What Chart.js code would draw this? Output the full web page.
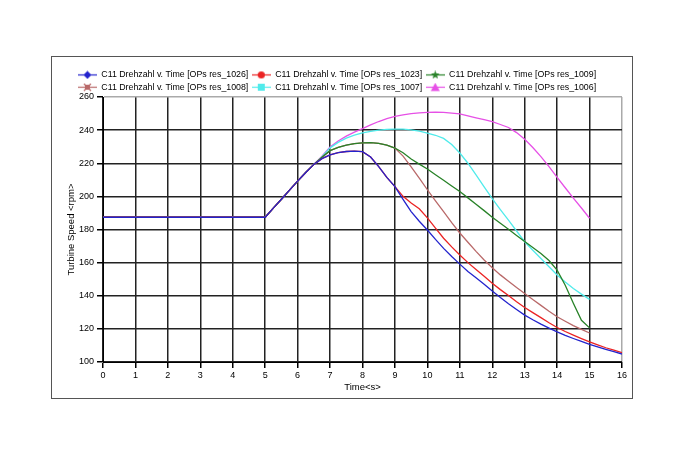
<!DOCTYPE html>
<html>
<head>
<meta charset="utf-8">
<script src="https://cdn.jsdelivr.net/npm/chart.js@4.4.1/dist/chart.umd.min.js"></script>
<style>
html, body { margin: 0; padding: 0; background: #fff; }
#box { position: absolute; left: 51px; top: 56px; width: 580px; height: 341px; border: 1px solid #555; }
</style>
</head>
<body>
<div id="box"><canvas id="speedChart" width="580" height="341"></canvas></div>
<script>
// Time axis (s) shared by all runs
const times = [0, 5, 5.25, 5.5, 5.75, 6, 6.25, 6.5, 6.75, 7, 7.25, 7.5, 7.75, 8, 8.25, 8.5, 8.75,
  9, 9.25, 9.5, 9.75, 10, 10.25, 10.5, 10.75, 11, 11.25, 11.5, 11.75, 12, 12.25, 12.5, 12.75,
  13, 13.25, 13.5, 13.75, 14, 14.25, 14.5, 14.75, 15, 15.25, 15.5, 15.75, 16];

// all runs sit on the same curve until ~6.5 s
const commonStart = [187.4, 187.4, 192.9, 198.3, 203.8, 209.2, 214.4, 219.3];

const res1026 = [...commonStart, 222.8, 225.1, 226.4, 227.1, 227.3, 227.0, 223.8, 218.0, 211.5,
  205.9, 198.2, 190.8, 185.0, 179.7, 174.0, 168.6, 163.7, 159.1, 154.7, 150.8, 147.0, 142.8, 138.9,
  135.2, 131.7, 128.3, 125.5, 122.9, 120.5, 118.2, 116.1, 114.2, 112.4, 110.7, 109.1, 107.6, 106.2, 104.8];
const res1023 = [...commonStart, 222.8, 225.1, 226.4, 227.1, 227.3, 227.0, 223.8, 218.0, 211.5,
  205.9, 200.0, 196.0, 192.5, 187.0, 180.8, 174.7, 169.5, 164.6, 160.0, 155.9, 151.8, 147.6, 143.7,
  140.1, 136.4, 132.9, 129.8, 126.8, 123.7, 120.8, 118.4, 116.2, 114.1, 112.1, 110.3, 108.6, 107.1, 105.7];
const res1009 = [...commonStart, 223.6, 227.6, 229.6, 231.0, 231.9, 232.3, 232.4, 232.0, 230.9,
  229.2, 226.3, 222.6, 219.5, 216.5, 213.1, 209.7, 206.3, 202.9, 199.1, 195.3, 191.4, 187.4, 183.8,
  180.1, 176.4, 172.7, 169.1, 165.5, 161.3, 155.5, 146.3, 135.5, 125.2, 120.6];
const res1008 = [...commonStart, 223.6, 227.6, 229.6, 231.0, 231.9, 232.3, 232.4, 232.0, 230.9,
  229.2, 224.3, 217.8, 211.0, 204.0, 197.3, 190.8, 184.2, 177.9, 172.3, 166.8, 161.6, 156.9, 152.6,
  148.8, 145.0, 141.4, 137.7, 134.2, 130.6, 127.3, 124.6, 122.0, 119.7, 117.5];
const res1007 = [...commonStart, 224.0, 229.3, 232.6, 235.2, 237.0, 238.3, 239.3, 240.0, 240.4,
  240.6, 240.6, 240.2, 239.4, 238.2, 236.9, 235.0, 231.3, 226.2, 220.0, 213.0, 205.8, 198.6, 192.0,
  185.6, 179.1, 172.6, 167.5, 162.5, 157.5, 152.5, 148.3, 144.4, 141.0, 137.8];
const res1006 = [...commonStart, 224.2, 229.8, 233.4, 236.4, 238.8, 240.9, 243.2, 245.2, 246.9,
  248.3, 249.2, 249.9, 250.4, 250.7, 250.8, 250.7, 250.3, 249.8, 248.6, 247.4, 246.3, 245.1, 243.4,
  241.6, 238.5, 234.5, 229.5, 224.0, 218.0, 211.5, 205.2, 199.0, 193.0, 186.8];

const seriesNames = ['C11 Drehzahl v. Time [OPs res_1026]', 'C11 Drehzahl v. Time [OPs res_1023]',
  'C11 Drehzahl v. Time [OPs res_1009]', 'C11 Drehzahl v. Time [OPs res_1008]',
  'C11 Drehzahl v. Time [OPs res_1007]', 'C11 Drehzahl v. Time [OPs res_1006]'];
const seriesValues = [res1026, res1023, res1009, res1008, res1007, res1006];
const seriesColors = ['rgb(35,35,205)', 'rgb(235,35,35)', 'rgb(40,130,40)',
  'rgb(185,105,105)', 'rgb(80,235,235)', 'rgb(230,80,230)'];
const markerShapes = ['diamond', 'circle', 'star', 'cross', 'square', 'triangle'];

// small line + marker images for the legend
function makeIcon(color, shape) {
  const c = document.createElement('canvas');
  c.width = 19; c.height = 9;
  const g = c.getContext('2d');
  g.strokeStyle = color;
  g.fillStyle = color;
  g.lineWidth = 1.2;
  g.beginPath(); g.moveTo(0, 4.5); g.lineTo(19, 4.5); g.stroke();
  const cx = 9.5, cy = 4.5;
  g.beginPath();
  if (shape === 'diamond') {
    g.moveTo(cx, cy - 4); g.lineTo(cx + 4, cy); g.lineTo(cx, cy + 4); g.lineTo(cx - 4, cy);
  } else if (shape === 'circle') {
    g.arc(cx, cy, 3.6, 0, Math.PI * 2);
  } else if (shape === 'star') {
    for (let k = 0; k < 10; k++) {
      const r = k % 2 === 0 ? 4.5 : 1.9;
      const a = -Math.PI / 2 + k * Math.PI / 5;
      g.lineTo(cx + r * Math.cos(a), cy + r * Math.sin(a));
    }
  } else if (shape === 'cross') {
    g.rect(cx - 2.5, cy - 2.5, 5, 5);
    g.fill();
    g.beginPath();
    g.lineWidth = 1.3;
    g.moveTo(cx - 3.5, cy - 3.5); g.lineTo(cx + 3.5, cy + 3.5);
    g.moveTo(cx + 3.5, cy - 3.5); g.lineTo(cx - 3.5, cy + 3.5);
    g.stroke();
    return c;
  } else if (shape === 'square') {
    g.rect(cx - 3.5, cy - 3.5, 7, 7);
  } else {
    g.moveTo(cx, cy - 4.5); g.lineTo(cx + 4.5, cy + 3.8); g.lineTo(cx - 4.5, cy + 3.8);
  }
  g.closePath();
  g.fill();
  return c;
}
const legendIcons = seriesColors.map((col, i) => makeIcon(col, markerShapes[i]));

const datasets = seriesValues.map((vals, i) => ({
  label: seriesNames[i],
  data: vals.map((v, j) => ({ x: times[j], y: v })),
  borderColor: seriesColors[i],
  backgroundColor: seriesColors[i],
  borderWidth: 1.3,
  pointRadius: 0,
  tension: 0,
  fill: false
}));

const fontFamily = "'Liberation Sans', Arial, sans-serif";

// fixed legend height so the plot area lands where the original has it
const fitLegend = {
  id: 'fitLegend',
  beforeInit(chart) {
    const fit = chart.legend.fit;
    chart.legend.fit = function () { fit.call(this); this.height = 30; };
  }
};

const ctx = document.getElementById('speedChart').getContext('2d');
new Chart(ctx, {
  type: 'line',
  data: { datasets: datasets },
  plugins: [fitLegend],
  options: {
    responsive: false,
    animation: false,
    events: [],
    layout: { padding: { top: 10, right: 10, left: 0, bottom: 0 } },
    plugins: {
      tooltip: { enabled: false },
      legend: {
        position: 'top',
        align: 'center',
        labels: {
          usePointStyle: true,
          pointStyleWidth: 19,
          padding: 3.5,
          color: '#000',
          font: { family: fontFamily, size: 8.8 },
          generateLabels: chart => chart.data.datasets.map((ds, i) => ({
            text: ds.label,
            pointStyle: legendIcons[i],
            fillStyle: 'transparent',
            strokeStyle: 'transparent',
            lineWidth: 0,
            fontColor: '#000',
            hidden: false,
            datasetIndex: i
          }))
        }
      }
    },
    scales: {
      x: {
        type: 'linear',
        min: 0,
        max: 16,
        afterFit(scale) { scale.height = 36; },
        ticks: { stepSize: 1, color: '#000', padding: 2, font: { family: fontFamily, size: 9 } },
        grid: {
          color: c => (c.tick && c.tick.value === 16 ? '#aaa' : '#222'),
          lineWidth: 1.5,
          tickLength: 6,
          tickColor: '#000'
        },
        border: { color: '#000', width: 1 },
        title: {
          display: true,
          text: 'Time<s>',
          color: '#000',
          font: { family: fontFamily, size: 9.5 },
          padding: { top: 0, bottom: 5 }
        }
      },
      y: {
        min: 100,
        max: 260,
        afterFit(scale) { scale.width = 51; },
        ticks: { stepSize: 20, color: '#000', padding: 3, font: { family: fontFamily, size: 9 } },
        grid: {
          color: c => (c.tick && c.tick.value === 260 ? '#aaa' : '#222'),
          lineWidth: 1.5,
          tickLength: 6,
          tickColor: '#000'
        },
        border: { color: '#000', width: 1 },
        title: {
          display: true,
          text: 'Turbine Speed <rpm>',
          color: '#000',
          font: { family: fontFamily, size: 9.5 },
          padding: { top: 14, bottom: 0 }
        }
      }
    }
  }
});
</script>
</body>
</html>
